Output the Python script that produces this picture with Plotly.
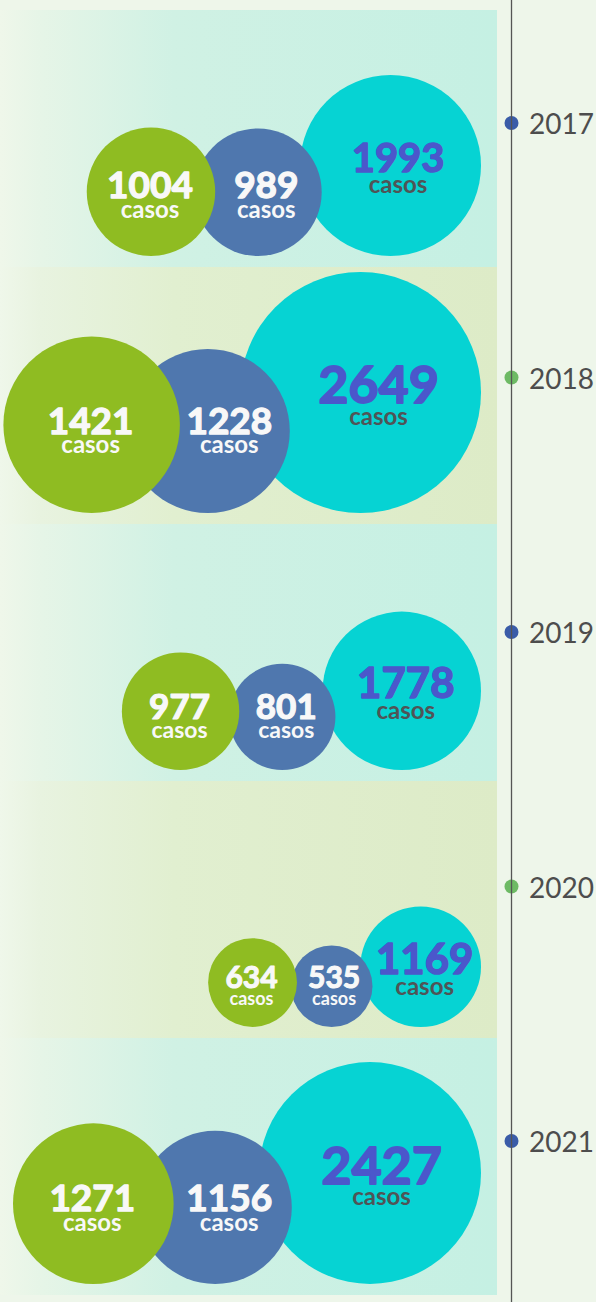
import math
import plotly.graph_objects as go

# ---------------- data ----------------
years = ["2017", "2018", "2019", "2020", "2021"]
casos_verde = [1004, 1421, 977, 634, 1271]      # green bubble
casos_azul = [989, 1228, 801, 535, 1156]        # blue bubble
casos_total = [1993, 2649, 1778, 1169, 2427]    # cyan bubble (total)
unit_label = "casos"

# ---------------- layout / style parameters ----------------
W, H = 596, 1302
band_top0, band_h, band_right = 10, 257, 497
timeline_x = 511.5
bubble_right = 481
bubble_bottom_pad = 11
bubble_scale = [2.027, 2.341, 1.878, 1.764, 2.253]   # px per sqrt(case), per year
overlap_azul_total = [19, 45, 10, 10, 29]
overlap_verde_azul = [21, 54, 10, 6, 35]
num_font = [37, 37, 35, 30, 37]
casos_font = [24, 24, 23, 18, 24]
total_font = [40, 52, 42, 42, 52]
total_casos_font = 24
first_year_y, year_step = 123, 254.5
CAP, XH = 0.7165, 0.506      # Lato cap-height / x-height (em)

BG = "#EEF6EA"
GREEN, BLUE, CYAN = "#8FBC22", "#4F77AE", "#06D3D3"
TOTAL_NUM, TOTAL_CASOS, WHITE = "#4B57CB", "#505456", "#F8F8F8"
band_scales = {
    "teal": [[0, "#EFF7EA"], [0.08, "#E6F5E7"], [0.35, "#D0F1E4"], [1, "#C5F0E3"]],
    "olive": [[0, "#EFF7EA"], [0.08, "#E8F3E0"], [0.35, "#E1EFD0"], [1, "#DDEBC7"]],
}
band_kind = ["teal", "olive", "teal", "olive", "teal"]
dot_colors = ["#3A5CA8", "#6DBA64", "#3A5CA8", "#6DBA64", "#3A5CA8"]
FONT = "Lato"

fig = go.Figure()

# ---------------- bands ----------------
band_bottoms = []
for i, kind in enumerate(band_kind):
    top = band_top0 + i * band_h
    bot = top + band_h
    band_bottoms.append(bot)
    fig.add_trace(go.Scatter(
        x=[0, band_right, band_right, 0, 0], y=[top, top, bot, bot, top],
        mode="lines", line=dict(width=0), fill="toself",
        fillgradient=dict(type="horizontal", colorscale=band_scales[kind],
                          start=0, stop=band_right),
        hoverinfo="skip", showlegend=False))

# ---------------- bubble geometry ----------------
def place_left(cx_r, cy_r, r_r, r_l, ov, bottom):
    cy_l = bottom - r_l
    dist = r_r + r_l - ov
    dy = cy_l - cy_r
    dx = math.sqrt(max(dist ** 2 - dy ** 2, 0))
    return cx_r - dx, cy_l

g = {k: [] for k in ["cx_t", "cy_t", "r_t", "cx_a", "cy_a", "r_a", "cx_v", "cy_v", "r_v"]}
for i in range(len(years)):
    k = bubble_scale[i]
    bottom = band_bottoms[i] - bubble_bottom_pad
    r_t = k * math.sqrt(casos_total[i])
    r_a = k * math.sqrt(casos_azul[i])
    r_v = k * math.sqrt(casos_verde[i])
    cx_t, cy_t = bubble_right - r_t, bottom - r_t
    cx_a, cy_a = place_left(cx_t, cy_t, r_t, r_a, overlap_azul_total[i], bottom)
    cx_v, cy_v = place_left(cx_a, cy_a, r_a, r_v, overlap_verde_azul[i], bottom)
    for key, val in zip(g.keys(), [cx_t, cy_t, r_t, cx_a, cy_a, r_a, cx_v, cy_v, r_v]):
        g[key].append(val)

for cx, cy, r, col in [("cx_t", "cy_t", "r_t", CYAN), ("cx_a", "cy_a", "r_a", BLUE),
                       ("cx_v", "cy_v", "r_v", GREEN)]:
    fig.add_trace(go.Scatter(
        x=g[cx], y=g[cy], mode="markers",
        marker=dict(size=[2 * r for r in g[r]], color=col, line=dict(width=0), opacity=1),
        hoverinfo="skip", showlegend=False))

# ---------------- labels (number + "casos" as one two-line text) ----------------
def label_block(values, xs, num_centers, nfs, cas_centers, cfs, num_color, cas_color):
    texts, ys, bases = [], [], []
    for v, cn, nf, cc, cf in zip(values, num_centers, nfs, cas_centers, cfs):
        bn = cn + CAP * nf / 2          # baseline of number
        bc = cc + XH * cf / 2           # baseline of "casos"
        base = (bc - bn) / 1.3          # plotly line spacing = 1.3 em of base font
        ys.append(bn + 0.4 * base)      # middle-center, 2 lines -> first baseline at y-0.4em
        bases.append(base)
        sw = round(nf * 0.035, 2)       # slight stroke to emulate a heavier weight
        texts.append(
            f"<span style='font-size:{nf}px;fill:{num_color};stroke:{num_color};"
            f"stroke-width:{sw}px;stroke-linejoin:round'>{v}</span><br>"
            f"<span style='font-size:{cf}px;fill:{cas_color}'>{unit_label}</span>")
    fig.add_trace(go.Scatter(
        x=xs, y=ys, text=texts, mode="text", textposition="middle center",
        textfont=dict(family=FONT, size=bases, color=cas_color, weight=700),
        hoverinfo="skip", showlegend=False))

n = len(years)
cn_pair = [(g["cy_v"][i] + g["cy_a"][i]) / 2 - 7.5 for i in range(n)]
cc_pair = [cn_pair[i] + 0.5 * num_font[i] + 8.5 for i in range(n)]
x_v = [g["cx_v"][i] - 1 for i in range(n)]
x_a = [g["cx_a"][i] + 0.4 * overlap_verde_azul[i] for i in range(n)]
x_t = [g["cx_t"][i] + 0.4 * overlap_azul_total[i] for i in range(n)]
cn_t = [g["cy_t"][i] - 8 for i in range(n)]
cc_t = [cn_t[i] + 0.4 * total_font[i] + 13.5 for i in range(n)]

label_block(casos_verde, x_v, cn_pair, num_font, cc_pair, casos_font, WHITE, WHITE)
label_block(casos_azul, x_a, cn_pair, num_font, cc_pair, casos_font, WHITE, WHITE)
label_block(casos_total, x_t, cn_t, total_font, cc_t, [total_casos_font] * n,
            TOTAL_NUM, TOTAL_CASOS)

# ---------------- timeline ----------------
year_y = [first_year_y + i * year_step for i in range(n)]
fig.add_shape(type="line", xref="x", yref="y", x0=timeline_x, x1=timeline_x, y0=0, y1=H,
              line=dict(color="#555555", width=1.3), layer="above")
fig.add_trace(go.Scatter(x=[timeline_x] * n, y=year_y, mode="markers",
                         marker=dict(size=14, color=dot_colors, line=dict(width=0)),
                         hoverinfo="skip", showlegend=False))
for yr, yy in zip(years, year_y):
    fig.add_annotation(x=527, y=yy, xref="x", yref="y", text=yr, showarrow=False,
                       xanchor="left", yanchor="middle",
                       font=dict(family=FONT, size=28, color="#4D4D4D"))

fig.update_layout(
    width=W, height=H, autosize=False,
    margin=dict(l=0, r=0, t=0, b=0, pad=0),
    paper_bgcolor=BG, plot_bgcolor=BG,
    xaxis=dict(range=[0, W], visible=False, fixedrange=True),
    yaxis=dict(range=[H, 0], visible=False, fixedrange=True),
    showlegend=False,
)
fig.write_html("out.html", config={"displayModeBar": False, "staticPlot": True},
               post_script="document.body.style.margin='0';document.body.style.background='%s';" % BG)
